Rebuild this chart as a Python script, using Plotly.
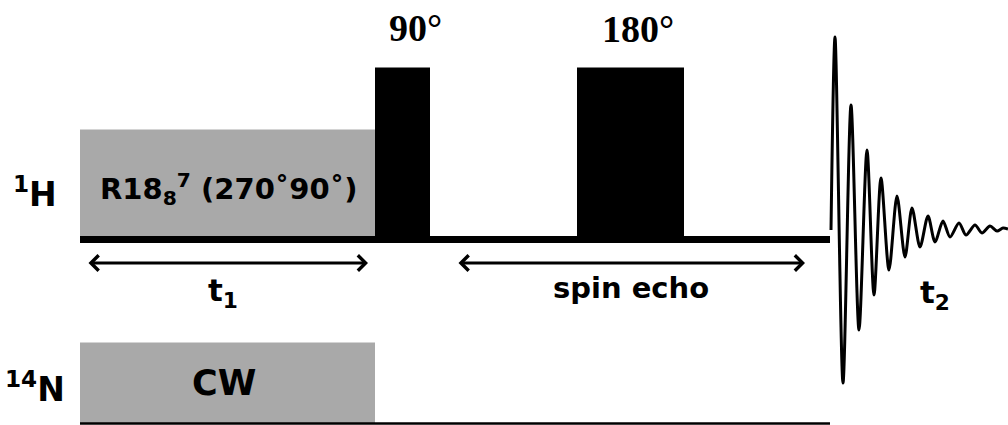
import plotly.graph_objects as go

# ---- data (diagram time axis 0..1008, amplitude axis 0..425) ----
h1_pulse_names = ["R18 recoupling", "90° pulse", "180° pulse"]
h1_pulse_start = [80, 375, 577]
h1_pulse_end = [375, 430, 684]
h1_pulse_amp = [110, 172, 172]
h1_pulse_fill = ["#a9a9a9", "#000000", "#000000"]

n14_pulse_names = ["CW"]
n14_pulse_start = [80]
n14_pulse_end = [375]
n14_pulse_amp = [81]

h1_level = 185.5
n14_level = 1.5
channel_start = 80
channel_end = 830

fid_t = [831, 835, 843, 851, 859, 867, 874, 881, 889, 897, 905, 912, 920,
         928, 935, 943, 950, 959, 966, 975, 982, 990, 997, 1003, 1008]
fid_y = [195, 388, 42, 320, 95, 275, 130, 247, 155, 229, 168, 217, 178,
         209, 183, 204, 188, 202, 190, 200, 192, 199, 194, 197, 196]

t1_span = [87, 368]
echo_span = [457, 805]
span_level = 162

fig = go.Figure()

def add_blocks(starts, ends, amps, base, colors, names):
    fig.add_trace(go.Bar(
        x=[(s + e) / 2 for s, e in zip(starts, ends)],
        width=[e - s for s, e in zip(starts, ends)],
        y=amps, base=base,
        marker=dict(color=colors, line=dict(width=0)),
        hovertext=names, showlegend=False))

add_blocks(h1_pulse_start, h1_pulse_end, h1_pulse_amp, h1_level, h1_pulse_fill, h1_pulse_names)
add_blocks(n14_pulse_start, n14_pulse_end, n14_pulse_amp, n14_level, ["#a9a9a9"], n14_pulse_names)

fig.add_trace(go.Scatter(x=[channel_start, channel_end], y=[h1_level, h1_level], mode="lines",
                         line=dict(color="black", width=7), showlegend=False))
fig.add_trace(go.Scatter(x=[channel_start, channel_end], y=[n14_level, n14_level], mode="lines",
                         line=dict(color="black", width=2.5), showlegend=False, cliponaxis=False))
fig.add_trace(go.Scatter(x=fid_t, y=fid_y, mode="lines",
                         line=dict(color="black", width=3, shape="spline", smoothing=0.8),
                         showlegend=False))

for span in (t1_span, echo_span):
    fig.add_annotation(x=span[1], y=span_level, ax=span[0], ay=span_level,
                       xref="x", yref="y", axref="x", ayref="y", text="",
                       showarrow=True, arrowside="end+start", arrowhead=4, startarrowhead=4,
                       arrowsize=1, startarrowsize=1, arrowwidth=3, arrowcolor="black",
                       standoff=0, startstandoff=0)

sans = "DejaVu Sans"
serif = "Liberation Serif"

def label(x, y, txt, size, fam=sans):
    fig.add_annotation(x=x, y=y, xref="x", yref="y", text=txt, showarrow=False,
                       xanchor="center", yanchor="middle",
                       font=dict(family=fam, size=size, color="black", weight="bold"))

label(415, 397, "90°", 38, serif)
label(638, 396, "180°", 38, serif)
label(35, 233, "<sup>1</sup>H", 33)
label(35, 38, "<sup>14</sup>N", 33)
label(228, 236, "R18<sub>8</sub><sup>7</sup> (270˚90˚)", 29)
label(224, 42, "CW", 35)
label(223, 133, "t<sub>1</sub>", 31)
label(631, 137, "spin echo", 29)
label(935, 131, "t<sub>2</sub>", 31)

fig.update_layout(
    width=1008, height=425, margin=dict(l=0, r=0, t=0, b=0),
    paper_bgcolor="white", plot_bgcolor="white", barmode="overlay",
    xaxis=dict(range=[0, 1008], visible=False, fixedrange=True),
    yaxis=dict(range=[0, 425], visible=False, fixedrange=True),
)

fig.write_html("out.html", config={"displayModeBar": False},
               post_script="document.body.style.margin='0';document.body.style.overflow='hidden';")
